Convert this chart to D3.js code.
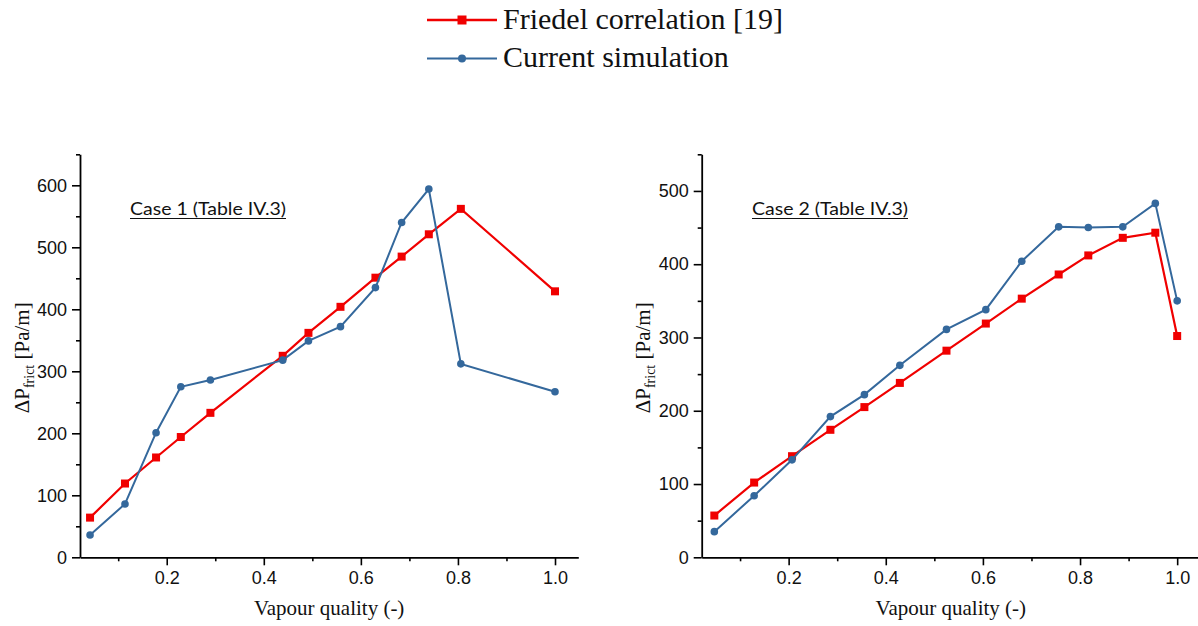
<!DOCTYPE html>
<html>
<head>
<meta charset="utf-8">
<script src="https://cdn.jsdelivr.net/npm/d3@7"></script>
<style>
  html, body { margin: 0; padding: 0; background: #fff; }
  svg { display: block; }
</style>
</head>
<body>
<svg id="chart" width="1198" height="626"></svg>
<script>
// ---------- data ----------
const seriesNames = ["Friedel correlation [19]", "Current simulation"];

const case1Quality = [0.042, 0.114, 0.178, 0.229, 0.290, 0.439, 0.492, 0.558, 0.630, 0.684, 0.740, 0.806, 1.0];
const case1Friedel = [64, 119, 161, 194, 233, 325, 362, 404, 451, 485, 521, 562, 429];
const case1Simulation = [36, 86, 201, 275, 286, 318, 349, 372, 435, 540, 594, 312, 267];

const case2Quality = [0.047, 0.129, 0.207, 0.286, 0.356, 0.429, 0.525, 0.606, 0.680, 0.756, 0.817, 0.888, 0.955, 1.0];
const case2Friedel = [57, 102, 138, 174, 205, 238, 282, 319, 353, 386, 412, 436, 443, 302];
const case2Simulation = [35, 84, 133, 192, 222, 262, 311, 338, 404, 451, 450, 451, 483, 350];

const xTickValues = [0.2, 0.4, 0.6, 0.8, 1.0];
const xMinorTickValues = [0.1, 0.3, 0.5, 0.7, 0.9];
const case1YTicks = [0, 100, 200, 300, 400, 500, 600];
const case1YMinorTicks = [50, 150, 250, 350, 450, 550, 650];
const case2YTicks = [0, 100, 200, 300, 400, 500];
const case2YMinorTicks = [50, 150, 250, 350, 450, 550];

const case1Label = "Case 1 (Table IV.3)";
const case2Label = "Case 2 (Table IV.3)";
const xTitle = "Vapour quality (-)";

// ---------- style ----------
const RED = "#f00000";
const BLUE = "#34689c";
const serif = "'Liberation Serif', 'Times New Roman', serif";
const sans = "'Liberation Sans', Arial, sans-serif";

const svg = d3.select("#chart");

function drawPanel(cfg) {
  const x = d3.scaleLinear().domain(cfg.xDomain).range([cfg.x0, cfg.x1]);
  const y = d3.scaleLinear().domain(cfg.yDomain).range([cfg.y0, cfg.y1]);
  const g = svg.append("g");

  // minor ticks
  const xMinor = g.append("g").attr("transform", `translate(0,${cfg.y0})`)
    .call(d3.axisBottom(x).tickValues(xMinorTickValues).tickSize(4).tickSizeOuter(0).tickFormat(""));
  const yMinor = g.append("g").attr("transform", `translate(${cfg.x0},0)`)
    .call(d3.axisLeft(y).tickValues(cfg.yMinor).tickSize(4).tickSizeOuter(0).tickFormat(""));
  [xMinor, yMinor].forEach(a => { a.select(".domain").remove(); a.selectAll("line").attr("stroke", "#000").attr("stroke-width", 1.6); });

  // major axes
  const xAxis = g.append("g").attr("transform", `translate(0,${cfg.y0})`)
    .call(d3.axisBottom(x).tickValues(xTickValues).tickSize(8).tickSizeOuter(0).tickPadding(6).tickFormat(d3.format(".1f")));
  const yAxis = g.append("g").attr("transform", `translate(${cfg.x0},0)`)
    .call(d3.axisLeft(y).tickValues(cfg.yTicks).tickSize(8).tickSizeOuter(0).tickPadding(5).tickFormat(d3.format("d")));
  [xAxis, yAxis].forEach(a => {
    a.select(".domain").attr("stroke", "#000").attr("stroke-width", 1.8);
    a.selectAll(".tick line").attr("stroke", "#000").attr("stroke-width", 1.6);
    a.selectAll("text").attr("font-family", sans).attr("font-size", 18).attr("fill", "#111");
  });

  // lines
  const line = d3.line().x(d => x(d[0])).y(d => y(d[1]));
  const red = cfg.q.map((q, i) => [q, cfg.friedel[i]]);
  const blue = cfg.q.map((q, i) => [q, cfg.sim[i]]);

  g.append("path").datum(red).attr("d", line).attr("fill", "none")
    .attr("stroke", RED).attr("stroke-width", 2.2);
  g.selectAll(".sq").data(red).enter().append("rect")
    .attr("x", d => x(d[0]) - 4).attr("y", d => y(d[1]) - 4)
    .attr("width", 8).attr("height", 8).attr("fill", RED);

  g.append("path").datum(blue).attr("d", line).attr("fill", "none")
    .attr("stroke", BLUE).attr("stroke-width", 2);
  g.selectAll(".ci").data(blue).enter().append("circle")
    .attr("cx", d => x(d[0])).attr("cy", d => y(d[1])).attr("r", 3.8).attr("fill", BLUE);

  // inner label
  g.append("text").attr("x", cfg.labelX).attr("y", 215)
    .attr("font-family", "Lato, 'Open Sans', sans-serif").attr("font-size", 18)
    .attr("textLength", 156).attr("lengthAdjust", "spacingAndGlyphs")
    .attr("fill", "#111").text(cfg.label);
  g.append("line").attr("x1", cfg.labelX).attr("x2", cfg.labelX + 156)
    .attr("y1", 218.5).attr("y2", 218.5).attr("stroke", "#111").attr("stroke-width", 1.2);

  // x title
  g.append("text").attr("x", (cfg.x0 + Math.min(cfg.x1, 1200)) / 2).attr("y", 615)
    .attr("text-anchor", "middle").attr("font-family", serif).attr("font-size", 21)
    .attr("fill", "#111").text(xTitle);

  // y title
  const yt = g.append("text")
    .attr("transform", `translate(${cfg.yTitleX},${(cfg.y0 + cfg.y1) / 2 + 2}) rotate(-90)`)
    .attr("text-anchor", "middle").attr("font-family", serif).attr("font-size", 21).attr("fill", "#111");
  yt.append("tspan").text("ΔP");
  yt.append("tspan").attr("font-size", 14).attr("dy", 5).text("frict");
  yt.append("tspan").attr("dy", -5).text(" [Pa/m]");
}

drawPanel({
  x0: 80, x1: 578.3, y0: 557.3, y1: 154.3,
  xDomain: [0.0213, 1.048], yDomain: [0, 650],
  yTicks: case1YTicks, yMinor: case1YMinorTicks,
  q: case1Quality, friedel: case1Friedel, sim: case1Simulation,
  label: case1Label, labelX: 130, yTitleX: 29
});

drawPanel({
  x0: 701.7, x1: 1200, y0: 557.3, y1: 154.3,
  xDomain: [0.021, 1.047], yDomain: [0, 550],
  yTicks: case2YTicks, yMinor: case2YMinorTicks,
  q: case2Quality, friedel: case2Friedel, sim: case2Simulation,
  label: case2Label, labelX: 752, yTitleX: 650
});

// legend
const legend = svg.append("g");
const legendItems = [
  { name: seriesNames[0], color: RED, y: 20, base: 29, shape: "square" },
  { name: seriesNames[1], color: BLUE, y: 58.5, base: 67, shape: "circle" }
];
legendItems.forEach(it => {
  legend.append("line").attr("x1", 427).attr("x2", 497).attr("y1", it.y).attr("y2", it.y)
    .attr("stroke", it.color).attr("stroke-width", it.shape === "square" ? 2.4 : 2.2);
  if (it.shape === "square") {
    legend.append("rect").attr("x", 462 - 4.5).attr("y", it.y - 4.5).attr("width", 9).attr("height", 9).attr("fill", it.color);
  } else {
    legend.append("circle").attr("cx", 462).attr("cy", it.y).attr("r", 4).attr("fill", it.color);
  }
  legend.append("text").attr("x", 503).attr("y", it.base)
    .attr("font-family", serif).attr("font-size", 30).attr("fill", "#111").text(it.name);
});
</script>
</body>
</html>
